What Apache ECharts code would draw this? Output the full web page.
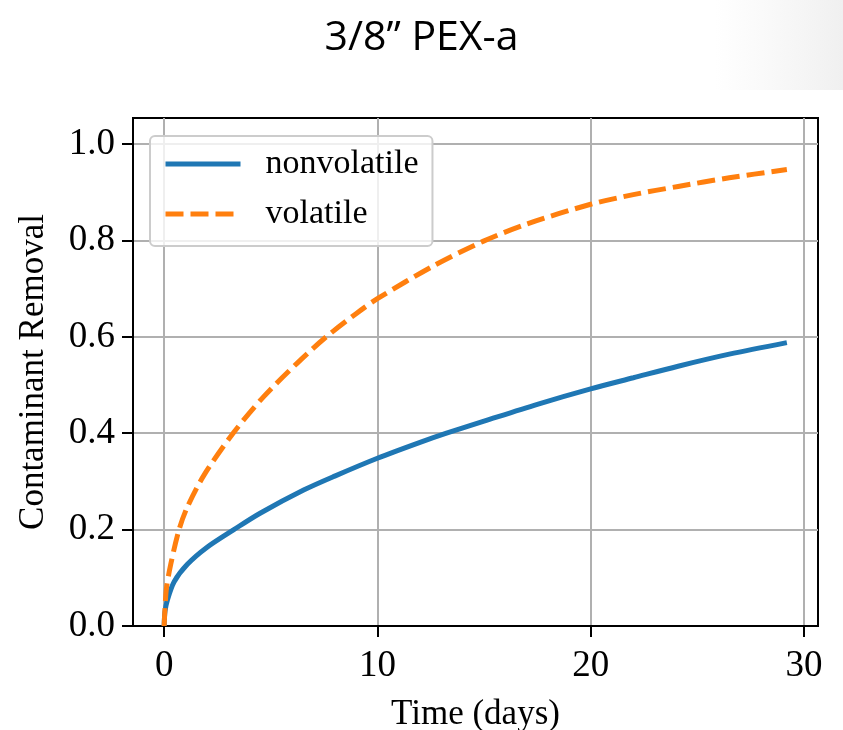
<!DOCTYPE html>
<html>
<head>
<meta charset="utf-8">
<script src="https://cdn.jsdelivr.net/npm/echarts@6/dist/echarts.min.js"></script>
<style>
html,body{margin:0;padding:0;background:#fff;}
#chart{width:843px;height:730px;}
</style>
</head>
<body>
<div id="chart"></div>
<script>
// Time (days) and removal values
const nonvolatileDays = [0, 0.04, 0.16, 0.47, 1.09, 2, 3.27, 4.5, 6.54, 8, 10, 12, 13.24, 15, 17.5, 20, 22, 24.1, 26.5, 29.2];
const nonvolatileValues = [0, 0.03, 0.055, 0.092, 0.128, 0.163, 0.2, 0.234, 0.282, 0.311, 0.348, 0.381, 0.4, 0.425, 0.46, 0.492, 0.515, 0.539, 0.564, 0.588];
const volatileDays = [0, 0.1, 0.31, 0.7, 1.09, 1.87, 3.27, 4.67, 6.23, 7.55, 9, 10, 12.66, 14.95, 17, 20, 22, 24.1, 26.5, 29.2];
const volatileValues = [0, 0.075, 0.128, 0.2, 0.247, 0.313, 0.402, 0.476, 0.545, 0.598, 0.648, 0.679, 0.748, 0.798, 0.834, 0.875, 0.895, 0.912, 0.93, 0.947];
const xTicks = [0, 10, 20, 30];
const yTicks = [0, 0.2, 0.4, 0.6, 0.8, 1.0];
const seriesNames = ['nonvolatile', 'volatile'];
const titleText = '3/8\u201D PEX-a';
const xName = 'Time (days)';
const yName = 'Contaminant Removal';

const pairs = (xs, ys) => xs.map((x, i) => [x, ys[i]]);
const serif = '"Liberation Serif", "DejaVu Serif", serif';

const chart = echarts.init(document.getElementById('chart'), null, {renderer: 'canvas'});
chart.setOption({
  animation: false,
  backgroundColor: '#ffffff',
  graphic: [{
    type: 'rect', left: 715, top: 0, z: -10, silent: true,
    shape: {width: 128, height: 90},
    style: {fill: new echarts.graphic.LinearGradient(0, 0, 1, 0, [
      {offset: 0, color: 'rgba(242,242,242,0)'},
      {offset: 1, color: 'rgba(240,240,240,1)'}
    ])}
  }],
  title: {
    text: titleText,
    left: 'center',
    top: 13,
    textStyle: {fontFamily: '"Open Sans", "Noto Sans", sans-serif', fontSize: 41, fontWeight: 'normal', color: '#000'}
  },
  grid: {
    left: 133, top: 118, right: 25, bottom: 104,
    outerBoundsMode: 'none',
    containLabel: false,
    show: true, borderColor: '#000', borderWidth: 2, backgroundColor: 'transparent'
  },
  legend: {
    orient: 'vertical',
    left: 150, top: 136,
    data: seriesNames,
    itemWidth: 75, itemHeight: 14, itemGap: 16,
    padding: [11, 14, 15, 13],
    backgroundColor: 'rgba(255,255,255,0.8)',
    borderColor: '#cccccc', borderWidth: 2, borderRadius: 5,
    itemStyle: {opacity: 0},
    lineStyle: {width: 5},
    textStyle: {fontFamily: serif, fontSize: 34, color: '#000', lineHeight: 34, padding: [0, 0, 0, 20]}
  },
  xAxis: {
    type: 'value',
    min: -1.46, max: 30.66,
    name: xName, nameLocation: 'middle', nameGap: 71,
    nameTextStyle: {fontFamily: serif, fontSize: 35, color: '#000'},
    axisLine: {show: true, onZero: false, lineStyle: {color: '#000', width: 2}},
    axisTick: {show: true, inside: false, length: 11, customValues: xTicks, lineStyle: {color: '#000', width: 2}},
    axisLabel: {customValues: xTicks, margin: 22, fontFamily: serif, fontSize: 37, color: '#000', formatter: v => String(v)},
    splitLine: {show: true, lineStyle: {color: '#b0b0b0', width: 2}}
  },
  yAxis: {
    type: 'value',
    min: 0, max: 1.054,
    name: yName, nameLocation: 'middle', nameGap: 82, nameRotate: 90,
    nameTextStyle: {fontFamily: serif, fontSize: 35, color: '#000'},
    axisLine: {show: true, onZero: false, lineStyle: {color: '#000', width: 2}},
    axisTick: {show: true, inside: false, length: 11, customValues: yTicks, lineStyle: {color: '#000', width: 2}},
    axisLabel: {customValues: yTicks, margin: 18, fontFamily: serif, fontSize: 37, color: '#000', formatter: v => v.toFixed(1)},
    splitLine: {show: true, lineStyle: {color: '#b0b0b0', width: 2}}
  },
  series: [
    {
      name: seriesNames[0], type: 'line', data: pairs(nonvolatileDays, nonvolatileValues),
      showSymbol: false, symbol: 'none', smooth: 0.3,
      lineStyle: {color: '#1f77b4', width: 5},
      itemStyle: {color: '#1f77b4'}
    },
    {
      name: seriesNames[1], type: 'line', data: pairs(volatileDays, volatileValues),
      showSymbol: false, symbol: 'none', smooth: 0.3,
      lineStyle: {color: '#ff7f0e', width: 5, type: [18, 7]},
      itemStyle: {color: '#ff7f0e'}
    }
  ]
});
</script>
</body>
</html>
